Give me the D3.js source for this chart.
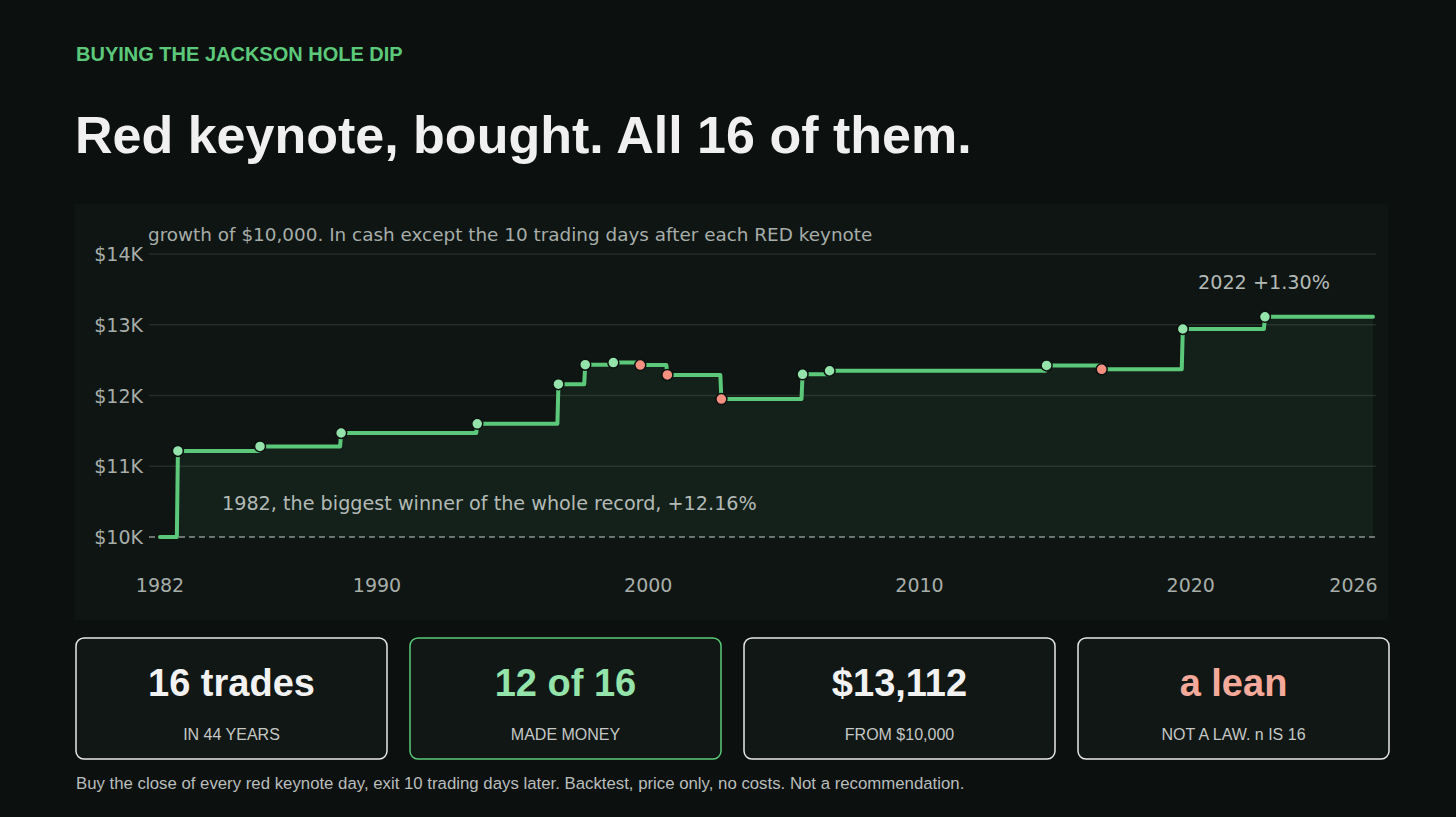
<!DOCTYPE html>
<html>
<head>
<meta charset="utf-8">
<script src="https://cdn.jsdelivr.net/npm/d3@7"></script>
<style>
  html, body { margin: 0; padding: 0; background: #0c1110; }
  svg { display: block; }
</style>
</head>
<body>
<div id="chart"></div>
<script>
'use strict';

// keynote (entry) dates of the 16 red keynotes, and the $10,000 account after each exit
const tradeDates = ["1982-08-16", "1985-08-26", "1988-08-22", "1993-08-29", "1996-08-26",
  "1997-08-22", "1998-09-04", "1999-09-02", "2000-09-01", "2002-08-29", "2005-08-26",
  "2006-08-25", "2014-08-25", "2016-09-05", "2019-09-02", "2022-09-12"];
const tradeValues = [11216, 11280, 11470, 11600, 12160, 12435, 12465, 12430, 12290, 11950,
  12300, 12350, 12425, 12370, 12940, 13112];
const yTicks = [10000, 11000, 12000, 13000, 14000];
const yTickLabels = ["$10K", "$11K", "$12K", "$13K", "$14K"];
const xTickYears = [1982, 1990, 2000, 2010, 2020, 2026];
const startDate = "1982-01-01";
const endDate = "2026-09-20";
const startValue = 10000;

const cardValues = ["16 trades", "12 of 16", "$13,112", "a lean"];
const cardLabels = ["IN 44 YEARS", "MADE MONEY", "FROM $10,000", "NOT A LAW. n IS 16"];
const cardColors = ["#f2f2f2", "#93e3aa", "#f2f2f2", "#f4a99a"];
const cardBorders = ["#e8e8e8", "#5cc97a", "#e8e8e8", "#e8e8e8"];

let width = 1456;
let height = 817;
let parse = d3.timeParse("%Y-%m-%d");

let svg = d3.select("#chart").append("svg")
    .attr("width", width)
    .attr("height", height);

let sans = "'Liberation Sans', Arial, sans-serif";
let font = "'DejaVu Sans', Verdana, sans-serif";

// header
svg.append("text")
    .attr("x", 76).attr("y", 61)
    .style("font-family", sans)
    .style("font-weight", "bold")
    .style("font-size", "20px")
    .style("fill", "#5cc97a")
    .text("BUYING THE JACKSON HOLE DIP");

svg.append("text")
    .attr("x", 75).attr("y", 153)
    .style("font-family", sans)
    .style("font-weight", "bold")
    .style("font-size", "52px")
    .style("fill", "#f0f0f0")
    .text("Red keynote, bought. All 16 of them.");

// chart panel
svg.append("rect")
    .attr("x", 75).attr("y", 204)
    .attr("width", 1313).attr("height", 416)
    .style("fill", "#0f1513");

let x = d3.scaleTime()
    .domain([parse(startDate), parse(endDate)])
    .range([160, 1373]);
let y = d3.scaleLinear()
    .domain([10000, 14000])
    .range([537, 254]);

let gridX0 = 149, gridX1 = 1376;

// gridlines
svg.selectAll(".grid")
    .data(yTicks)
    .enter().append("line")
        .attr("class", "grid")
        .attr("x1", gridX0).attr("x2", gridX1)
        .attr("y1", function(d) { return y(d); })
        .attr("y2", function(d) { return y(d); })
        .style("stroke", function(d) { return d === startValue ? "#8c938f" : "#232d28"; })
        .style("stroke-width", 1.5)
        .style("stroke-dasharray", function(d) { return d === startValue ? "6,4" : null; });

svg.selectAll(".ylab")
    .data(yTicks)
    .enter().append("text")
        .attr("class", "ylab")
        .attr("x", 143)
        .attr("y", function(d) { return y(d) + 7; })
        .style("text-anchor", "end")
        .style("font-family", font)
        .style("font-size", "19px")
        .style("fill", "#a7aeaa")
        .text(function(d, i) { return yTickLabels[i]; });

svg.selectAll(".xlab")
    .data(xTickYears)
    .enter().append("text")
        .attr("class", "xlab")
        .attr("x", function(d) { return x(new Date(d, 0, 1)); })
        .attr("y", 592)
        .style("text-anchor", "middle")
        .style("font-family", font)
        .style("font-size", "19px")
        .style("fill", "#a7aeaa")
        .text(function(d) { return d; });

svg.append("text")
    .attr("x", 148).attr("y", 241)
    .style("font-family", font)
    .style("font-size", "18.4px")
    .style("fill", "#a7aeaa")
    .text("growth of $10,000. In cash except the 10 trading days after each RED keynote");

// equity path: flat in cash, then a 10 trading day (14 calendar day) hold
let trades = tradeDates.map(function(d, i) {
    let entry = parse(d);
    return {
        entry: entry,
        exit: d3.timeDay.offset(entry, 14),
        before: i === 0 ? startValue : tradeValues[i - 1],
        value: tradeValues[i]
    };
});
let pts = [[parse(startDate), startValue]];
trades.forEach(function(t) {
    pts.push([t.entry, t.before]);
    pts.push([t.exit, t.value]);
});
pts.push([parse(endDate), tradeValues[tradeValues.length - 1]]);

let area = d3.area()
    .x(function(d) { return x(d[0]); })
    .y0(y(startValue))
    .y1(function(d) { return y(d[1]); });
let line = d3.line()
    .x(function(d) { return x(d[0]); })
    .y(function(d) { return y(d[1]); });

svg.append("path")
    .attr("d", area(pts))
    .style("fill", "#5cc97a")
    .style("fill-opacity", 0.07);

svg.append("path")
    .attr("d", line(pts))
    .style("fill", "none")
    .style("stroke", "#5cc97a")
    .style("stroke-width", 4)
    .style("stroke-linejoin", "round")
    .style("stroke-linecap", "round");

svg.selectAll(".dot")
    .data(trades)
    .enter().append("circle")
        .attr("class", "dot")
        .attr("cx", function(d) { return x(d.exit); })
        .attr("cy", function(d) { return y(d.value); })
        .attr("r", 5.5)
        .style("fill", function(d) { return d.value >= d.before ? "#93e3aa" : "#f4907f"; })
        .style("stroke", "#0c1110")
        .style("stroke-width", 1.5);

// annotations
svg.append("text")
    .attr("x", 222).attr("y", 510)
    .style("font-family", font)
    .style("font-size", "19.2px")
    .style("fill", "#b3bab6")
    .text("1982, the biggest winner of the whole record, +12.16%");

svg.append("text")
    .attr("x", 1198).attr("y", 289)
    .style("font-family", font)
    .style("font-size", "19.2px")
    .style("fill", "#b3bab6")
    .text("2022 +1.30%");

// stat cards
let cardW = 311, cardH = 121, cardGap = 23, cardX0 = 76, cardY = 638;
let cards = svg.selectAll(".card")
    .data(cardValues)
    .enter().append("g")
        .attr("class", "card")
        .attr("transform", function(d, i) {
            return "translate(" + (cardX0 + i * (cardW + cardGap)) + "," + cardY + ")";
        });

cards.append("rect")
    .attr("width", cardW).attr("height", cardH)
    .attr("rx", 8).attr("ry", 8)
    .style("fill", "#111715")
    .style("stroke", function(d, i) { return cardBorders[i]; })
    .style("stroke-width", 1.5);

cards.append("text")
    .attr("x", cardW / 2).attr("y", 58)
    .style("text-anchor", "middle")
    .style("font-family", sans)
    .style("font-weight", "bold")
    .style("font-size", "38px")
    .style("fill", function(d, i) { return cardColors[i]; })
    .text(function(d) { return d; });

cards.append("text")
    .attr("x", cardW / 2).attr("y", 102)
    .style("text-anchor", "middle")
    .style("font-family", sans)
    .style("font-size", "16px")
    .style("fill", "#c4c8c6")
    .text(function(d, i) { return cardLabels[i]; });

svg.append("text")
    .attr("x", 76).attr("y", 789)
    .style("font-family", sans)
    .style("font-size", "16.8px")
    .style("fill", "#b9bdbb")
    .text("Buy the close of every red keynote day, exit 10 trading days later. Backtest, price only, no costs. Not a recommendation.");
</script>
</body>
</html>
